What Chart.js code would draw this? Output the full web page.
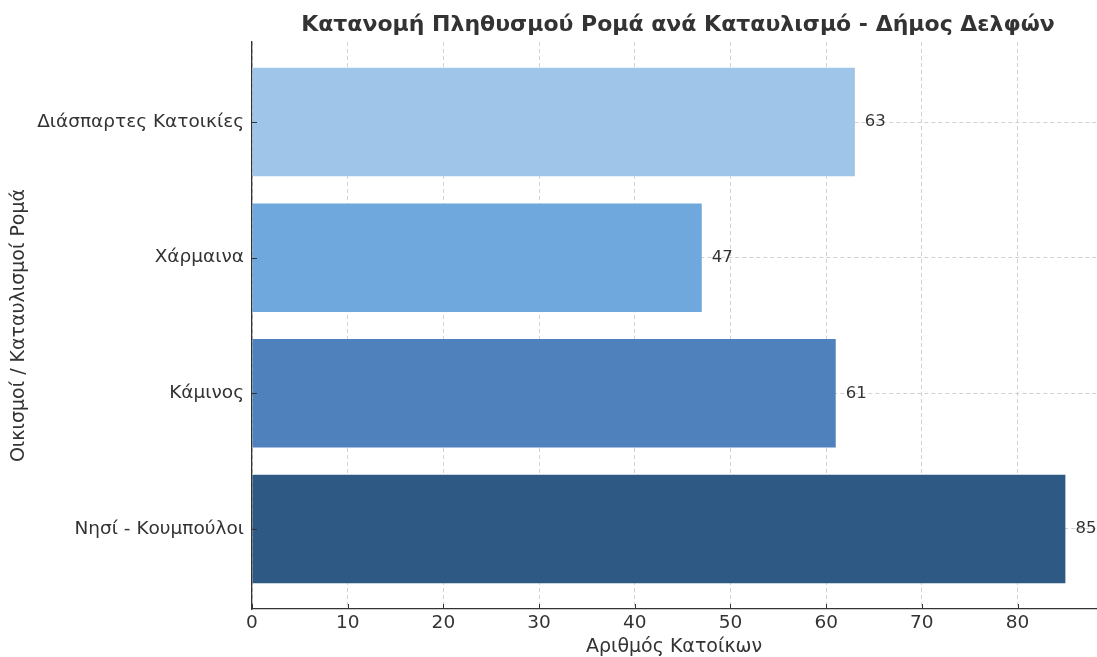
<!DOCTYPE html>
<html>
<head>
<meta charset="utf-8">
<script src="https://cdn.jsdelivr.net/npm/chart.js@4/dist/chart.umd.min.js"></script>
<style>
  html, body { margin: 0; padding: 0; background: #fff; }
  #wrap { width: 1097px; height: 657px; }
</style>
</head>
<body>
<div id="wrap"><canvas id="RomaChart"></canvas></div>
<script>
// data
var settlements = ["Διάσπαρτες Κατοικίες", "Χάρμαινα", "Κάμινος", "Νησί - Κουμπούλοι"];
var residents = [63, 47, 61, 85];
var barColors = ["#9fc5e8", "#6fa8dc", "#4f81bd", "#2e5984"];
var xTicks = [0, 10, 20, 30, 40, 50, 60, 70, 80];

var FONT = "'DejaVu Sans', sans-serif";
var TEXT = "#333333";

// value labels at the end of every bar
var valueLabels = {
    id: "valueLabels",
    afterDatasetsDraw: function (chart) {
        var ctx = chart.ctx;
        var meta = chart.getDatasetMeta(0);
        ctx.save();
        ctx.font = "16.5px " + FONT;
        ctx.fillStyle = TEXT;
        ctx.textAlign = "left";
        ctx.textBaseline = "middle";
        meta.data.forEach(function (bar, i) {
            ctx.fillText(String(residents[i]), bar.x + 10, bar.y);
        });
        ctx.restore();
    }
};

// title centred over the plot area + inward tick marks (matplotlib look)
var plotTitle = {
    id: "plotTitle",
    afterDraw: function (chart) {
        var ctx = chart.ctx;
        var a = chart.chartArea;
        var xs = chart.scales.x, ys = chart.scales.y;
        ctx.save();
        ctx.strokeStyle = "#333333";
        ctx.lineWidth = 1;
        ctx.beginPath();
        xTicks.forEach(function (v) {
            var px = Math.round(xs.getPixelForValue(v)) + 0.5;
            ctx.moveTo(px, a.bottom);
            ctx.lineTo(px, a.bottom - 5);
        });
        settlements.forEach(function (s, i) {
            var py = Math.round(ys.getPixelForValue(i)) + 0.5;
            ctx.moveTo(a.left, py);
            ctx.lineTo(a.left + 5, py);
        });
        ctx.stroke();

        ctx.font = "bold 22px " + FONT;
        ctx.fillStyle = TEXT;
        ctx.textAlign = "center";
        ctx.textBaseline = "middle";
        ctx.fillText("Κατανομή Πληθυσμού Ρομά ανά Καταυλισμό - Δήμος Δελφών", (a.left + a.right) / 2 + 4, 25);
        ctx.restore();
    }
};

new Chart(document.getElementById("RomaChart"), {
    type: "bar",
    data: {
        datasets: [
            {
                data: residents.map(function (v, i) { return { x: v, y: i }; }),
                backgroundColor: barColors,
                borderWidth: 0,
                barPercentage: 0.8,
                categoryPercentage: 1.0,
            },
        ],
    },
    options: {
        indexAxis: "y",
        responsive: true,
        maintainAspectRatio: false,
        animation: false,
        layout: { padding: { top: 42, right: 1, left: 0, bottom: 0 } },
        plugins: {
            legend: { display: false },
            tooltip: { enabled: false },
        },
        scales: {
            x: {
                type: "linear",
                min: 0,
                max: 88.2,
                z: 1,
                afterBuildTicks: function (axis) {
                    axis.ticks = xTicks.map(function (v) { return { value: v }; });
                },
                afterFit: function (axis) { axis.height = 48; },
                grid: {
                    color: "rgba(180,180,180,0.6)",
                    lineWidth: 1,
                    drawTicks: false,
                },
                border: { display: true, color: "#333333", width: 1.3, dash: [4, 3] },
                ticks: {
                    color: TEXT,
                    font: { family: FONT, size: 18.5 },
                    padding: 3,
                    maxRotation: 0,
                },
                title: {
                    display: true,
                    text: "Αριθμός Κατοίκων",
                    color: TEXT,
                    font: { family: FONT, size: 19, lineHeight: 1.0 },
                    padding: { top: 0, bottom: 0 },
                },
            },
            y: {
                type: "linear",
                reverse: true,
                min: -0.59,
                max: 3.59,
                z: 1,
                offset: false,
                afterBuildTicks: function (axis) {
                    axis.ticks = settlements.map(function (s, i) { return { value: i }; });
                },
                afterFit: function (axis) { axis.width = 252; },
                grid: {
                    offset: false,
                    color: "rgba(180,180,180,0.6)",
                    lineWidth: 1,
                    drawTicks: false,
                },
                border: { display: true, color: "#333333", width: 1.3, dash: [4, 3] },
                ticks: {
                    color: TEXT,
                    font: { family: FONT, size: 18.5 },
                    padding: 8,
                    callback: function (value) { return settlements[value]; },
                },
                title: {
                    display: true,
                    text: "Οικισμοί / Καταυλισμοί Ρομά",
                    color: TEXT,
                    font: { family: FONT, size: 19, lineHeight: 1.0 },
                    padding: { top: 10, bottom: 0 },
                },
            },
        },
    },
    plugins: [valueLabels, plotTitle],
});
</script>
</body>
</html>
